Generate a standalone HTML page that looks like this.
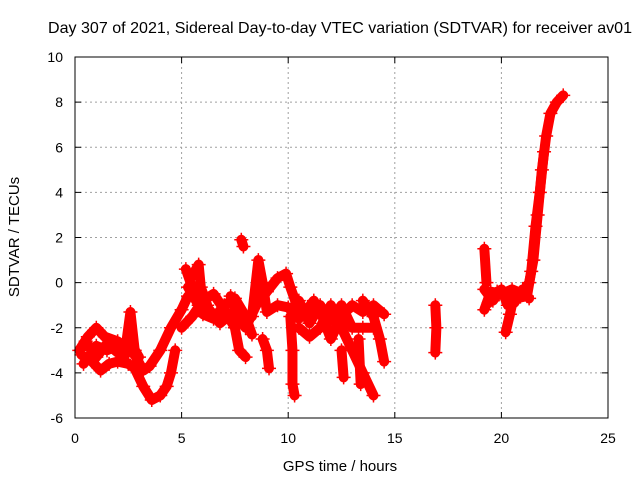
<!DOCTYPE html>
<html><head><meta charset="utf-8"><style>
body{margin:0;background:#fff}
svg{display:block;font-family:"Liberation Sans",sans-serif}
</style></head><body>
<svg id="chart" width="640" height="480" viewBox="0 0 640 480">
<rect width="640" height="480" fill="#fff"/>
<text x="340" y="33" font-size="16" text-anchor="middle" textLength="584" lengthAdjust="spacingAndGlyphs">Day 307 of 2021, Sidereal Day-to-day VTEC variation (SDTVAR) for receiver av01</text>
<g id="grid"></g>
<g id="ticks"></g>
<g id="series"></g>
<rect x="75" y="57" width="533" height="361" fill="none" stroke="#000" stroke-width="1"/>
<text x="340" y="471" font-size="15" text-anchor="middle">GPS time / hours</text>
<text transform="translate(19,237) rotate(-90)" font-size="15" text-anchor="middle">SDTVAR / TECUs</text>
</svg>
<script>
const xTicks=[0,5,10,15,20,25];
const yTicks=[-6,-4,-2,0,2,4,6,8,10];
const track1=[[0.3,-3.2],[0.8,-3.5],[1.2,-3.9],[1.6,-3.6],[2.0,-3.5],[2.5,-3.6],[2.8,-3.8],[3.2,-4.6],[3.6,-5.2],[4.0,-5.0],[4.3,-4.6],[4.5,-4.0],[4.7,-3.0]];
const track2=[[0.2,-3.0],[0.6,-2.4],[1.0,-2.0],[1.4,-2.4],[2.0,-2.6],[2.4,-2.9],[2.8,-3.2],[3.2,-3.9],[3.5,-3.7],[4.0,-3.0],[4.5,-2.0],[5.0,-1.2],[5.3,-0.6]];
const track3=[[0.4,-3.6],[1.0,-2.8],[1.5,-3.0],[2.0,-2.8],[2.3,-3.4],[2.6,-1.3],[2.8,-3.0]];
const track4=[[5.2,0.6],[5.6,-0.5],[6.0,-1.4],[6.5,-1.6],[7.0,-1.0],[7.5,-0.7],[8.0,-1.5],[8.3,-2.3]];
const track5=[[5.0,-2.0],[5.5,-1.5],[6.0,-0.8],[6.5,-0.5],[7.0,-1.2],[7.5,-2.0],[7.7,-3.0],[8.0,-3.3]];
const track6=[[5.5,0.3],[5.8,0.8],[5.9,-0.2],[6.2,-1.0]];
const track7=[[7.3,-0.6],[7.6,-1.5],[8.0,-2.0],[8.5,-1.0],[9.0,-0.4],[9.5,0.2],[9.9,0.4],[10.1,-0.2],[10.4,-1.0]];
const track8=[[8.3,-1.5],[8.6,1.0],[8.8,0.0],[9.0,-1.3],[9.5,-1.0],[10.0,-1.1],[10.5,-1.6]];
const track9=[[8.8,-2.5],[9.0,-3.0],[9.1,-3.8]];
const track10=[[10.1,-1.5],[10.2,-3.0],[10.2,-4.5],[10.3,-5.0]];
const track11=[[10.3,-1.0],[10.8,-1.3],[11.2,-0.8],[11.6,-1.5],[12.0,-2.5],[12.5,-1.5],[13.0,-1.0],[13.5,-1.3],[14.0,-1.0],[14.5,-1.4]];
const track12=[[10.5,-2.0],[11.0,-2.4],[11.5,-2.0],[12.0,-1.0],[12.5,-2.0],[13.0,-3.0],[13.5,-4.0],[14.0,-5.0]];
const track13=[[13.5,-0.8],[14.0,-1.5],[14.3,-2.5],[14.5,-3.5]];
const track14=[[12.5,-3.0],[12.6,-4.2]];
const track15=[[13.3,-2.5],[13.4,-4.5]];
const track16=[[7.8,1.9],[7.9,1.6]];
const track17=[[16.9,-1.0],[16.95,-2.0],[16.9,-3.1]];
const track18=[[19.2,-1.2],[19.5,-0.4],[20.0,-0.5],[20.5,-0.3],[21.0,-0.5],[21.3,0.0],[21.5,1.0],[21.7,3.0],[21.9,5.0],[22.1,6.5],[22.3,7.5],[22.6,8.0],[22.9,8.3]];
const track19=[[19.2,-0.3],[19.6,-0.8],[20.0,-0.3],[20.3,-1.0],[20.7,-0.7],[21.2,-0.6],[21.4,0.5],[21.6,2.5],[21.8,4.0],[22.0,5.8]];
const track20=[[20.6,-0.5],[20.4,-1.4],[20.2,-2.2]];
const track21=[[19.2,1.5],[19.3,0.0]];
const track22=[[0.5,-2.6],[1.0,-3.3],[1.5,-2.7],[2.0,-3.1],[2.5,-2.5],[3.0,-3.3]];
const track23=[[10.5,-0.8],[11.0,-1.8],[11.5,-1.0],[12.0,-1.7],[12.5,-1.0],[13.0,-2.0],[13.5,-2.0],[14.0,-2.0]];
const track24=[[5.3,-0.2],[5.8,-1.0],[6.3,-1.2],[6.8,-1.8],[7.3,-1.4]];
const track25=[[19.4,-0.9],[19.8,-0.4],[20.2,-0.6],[20.6,-0.9],[21.0,-0.3],[21.3,-0.7]];
const tracks=[track1,track2,track3,track4,track5,track6,track7,track8,track9,track10,track11,track12,track13,track14,track15,track16,track17,track18,track19,track20,track21,track22,track23,track24,track25];

const L=75,R=608,T=57,B=418,X0=0,X1=25,Y0=-6,Y1=10;
const sx=v=>L+(v-X0)/(X1-X0)*(R-L);
const sy=v=>B-(v-Y0)/(Y1-Y0)*(B-T);
const NS="http://www.w3.org/2000/svg";
function mk(tag,attrs,parent){const e=document.createElementNS(NS,tag);for(const k in attrs)e.setAttribute(k,attrs[k]);parent.appendChild(e);return e;}
const grid=document.getElementById('grid'),ticks=document.getElementById('ticks'),ser=document.getElementById('series');
xTicks.forEach(t=>{
  const x=sx(t);
  if(t>X0&&t<X1){const g=mk('line',{x1:x,x2:x,y1:T,y2:B,stroke:'#a0a0a0','stroke-dasharray':'2,3'},grid);
    
    }
  const l=mk('text',{x:x,y:B+25,'font-size':14,'text-anchor':'middle'},ticks);l.textContent=t;
  
  
  mk('line',{x1:x,x2:x,y1:B,y2:B-6,stroke:'#000'},ticks);
  mk('line',{x1:x,x2:x,y1:T,y2:T+6,stroke:'#000'},ticks);
});
yTicks.forEach(t=>{
  const y=sy(t);
  if(t>Y0&&t<Y1){const g=mk('line',{x1:L,x2:R,y1:y,y2:y,stroke:'#a0a0a0','stroke-dasharray':'2,3'},grid);
    
    }
  const l=mk('text',{x:L-12,y:y+5,'font-size':14,'text-anchor':'end'},ticks);l.textContent=t;
  
  
  mk('line',{x1:L,x2:L+6,y1:y,y2:y,stroke:'#000'},ticks);
  mk('line',{x1:R,x2:R-6,y1:y,y2:y,stroke:'#000'},ticks);
});
tracks.forEach((tr)=>{
  const pl=mk('polyline',{points:tr.map(p=>sx(p[0])+','+sy(p[1])).join(' '),fill:'none',stroke:'#f00','stroke-width':10,'stroke-linejoin':'round','stroke-linecap':'round'},ser);
  
  
  tr.forEach(p=>{
    const x=sx(p[0]),y=sy(p[1]);
    const m=mk('path',{d:`M${x-7},${y}H${x+7}M${x},${y-7}V${y+7}`,stroke:'#f00','stroke-width':1.5},ser);
    
    
  });
});
</script>
</body></html>
